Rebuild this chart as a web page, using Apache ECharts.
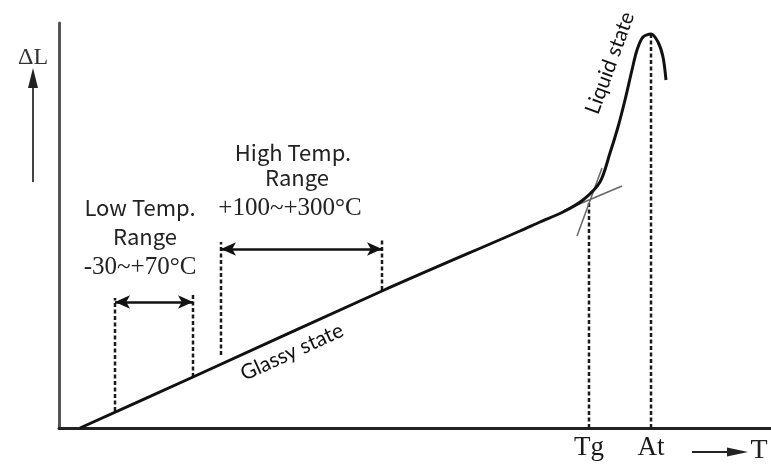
<!DOCTYPE html>
<html><head><meta charset="utf-8">
<script src="https://cdn.jsdelivr.net/npm/echarts@6/dist/echarts.min.js"></script>
<style>html,body{margin:0;padding:0;background:#fff}#c{width:771px;height:471px}</style>
</head><body><div id="c"></div>
<script>
// ---- data (T and ΔL in arbitrary units) ----
const curveT  = [21, 134, 323, 461, 481, 504, 524, 541, 551, 559, 566, 573, 578, 584, 592, 599, 604, 607];
const curveDL = [0, 51, 137, 197, 206, 216, 228, 246, 275, 301, 328, 358, 378, 391, 394, 386, 371, 348];

const tangentGlassT  = [504, 563];
const tangentGlassDL = [217, 242];
const tangentLiquidT  = [518, 543];
const tangentLiquidDL = [192, 260];

const guideT      = [56, 134, 162, 323, 530, 592];
const guideBottom = [17, 51, 73, 138, 0, 0];
const guideTop    = [130, 135, 186, 189, 228, 393];

const lowRangeT  = [56, 134];
const lowRangeDL = 126;
const highRangeT  = [162, 323];
const highRangeDL = 179;

const tickT     = [530, 592];
const tickNames = ['Tg', 'At'];

const noteTexts = ['High Temp.', 'Range', '+100~+300°C', 'Low Temp.', 'Range', '-30~+70°C'];
const noteT  = [234, 238, 231, 81, 86, 81];
const noteDL = [275, 250, 220, 220, 191, 161];
const stateTexts = ['Glassy state', 'Liquid state'];
const stateT  = [233, 551];
const stateDL = [76, 365];

// ---- chart ----
const chart = echarts.init(document.getElementById('c'), null, {renderer: 'canvas'});
const pair = (xs, ys) => xs.map((x, i) => [x, ys[i]]);

const series = [];
series.push({
  type: 'line', data: pair(curveT, curveDL), smooth: 0.3,
  symbol: 'none', lineStyle: {color: '#111', width: 3}, z: 5, silent: true
});
series.push({
  type: 'line', data: pair(tangentGlassT, tangentGlassDL), symbol: 'none',
  lineStyle: {color: '#666', width: 1.5}, z: 4, silent: true,
  markLine: {
    silent: true, animation: false, symbol: ['arrow', 'arrow'], symbolSize: [10, 15],
    lineStyle: {color: '#111', width: 2.5, type: 'solid'}, label: {show: false},
    emphasis: {disabled: true},
    data: [
      [{coord: [lowRangeT[0], lowRangeDL]}, {coord: [lowRangeT[1], lowRangeDL]}],
      [{coord: [highRangeT[0], highRangeDL]}, {coord: [highRangeT[1], highRangeDL]}]
    ]
  }
});
series.push({
  type: 'line', data: pair(tangentLiquidT, tangentLiquidDL), symbol: 'none',
  lineStyle: {color: '#666', width: 1.5}, z: 4, silent: true
});
guideT.forEach((t, i) => {
  series.push({
    type: 'line', data: [[t, guideBottom[i]], [t, guideTop[i]]], symbol: 'none',
    lineStyle: {color: '#1a1a1a', width: 2.5, type: [4, 2.5]}, z: 3, silent: true
  });
});

chart.setOption({
  animation: false,
  backgroundColor: '#fff',
  grid: {left: 59, top: 23, right: 0, bottom: 43, containLabel: false},
  xAxis: {
    type: 'value', min: 0, max: 712,
    axisLine: {show: true, onZero: false, lineStyle: {color: '#222', width: 3}},
    axisTick: {show: true, inside: true, length: 4, customValues: tickT, lineStyle: {color: '#222', width: 1.5}},
    axisLabel: {
      show: true, customValues: tickT, margin: 6,
      formatter: v => tickNames[tickT.indexOf(v)] || '',
      fontFamily: 'Liberation Serif', fontSize: 27, color: '#1a1a1a'
    },
    splitLine: {show: false}
  },
  yAxis: {
    type: 'value', min: 0, max: 405,
    axisLine: {show: true, onZero: false, lineStyle: {color: '#555', width: 3}},
    axisTick: {show: false}, axisLabel: {show: false}, splitLine: {show: false}
  },
  series: series
});

const px = p => chart.convertToPixel({xAxisIndex: 0, yAxisIndex: 0}, p);
const graphics = [];
noteTexts.forEach((t, i) => {
  const p = px([noteT[i], noteDL[i]]);
  const serif = /[0-9]/.test(t);
  graphics.push({
    type: 'text', x: p[0], y: p[1], silent: true,
    style: {
      text: t, x: 0, y: 0, align: 'center', verticalAlign: 'middle',
      font: serif ? '25px "Liberation Serif"' : '22px "Noto Sans CJK JP"', fill: '#222'
    }
  });
});
const stateRot = [24.5, 70];
stateTexts.forEach((t, i) => {
  const p = px([stateT[i], stateDL[i]]);
  graphics.push({
    type: 'text', x: p[0], y: p[1], rotation: stateRot[i] * Math.PI / 180, silent: true,
    style: {text: t, x: 0, y: 0, align: 'center', verticalAlign: 'middle',
      font: '21px Lato', fill: '#111'}
  });
});
// axis name decorations
graphics.push(
  {type: 'text', x: 33, y: 58, silent: true,
   style: {text: 'ΔL', x: 0, y: 0, align: 'center', verticalAlign: 'middle', font: '24px "Liberation Serif"', fill: '#333'}},
  {type: 'line', silent: true, shape: {x1: 33, y1: 182, x2: 33, y2: 85}, style: {stroke: '#444', lineWidth: 2}},
  {type: 'polygon', silent: true, shape: {points: [[33, 68], [28, 88], [38, 88]]}, style: {fill: '#222'}},
  {type: 'line', silent: true, shape: {x1: 692, y1: 452, x2: 730, y2: 452}, style: {stroke: '#222', lineWidth: 2}},
  {type: 'polygon', silent: true, shape: {points: [[748, 452], [727, 447.5], [727, 456.5]]}, style: {fill: '#222'}},
  {type: 'text', x: 759, y: 451, silent: true,
   style: {text: 'T', x: 0, y: 0, align: 'center', verticalAlign: 'middle', font: '28px "Liberation Serif"', fill: '#222'}}
);
chart.setOption({graphic: graphics});
</script>
</body></html>
